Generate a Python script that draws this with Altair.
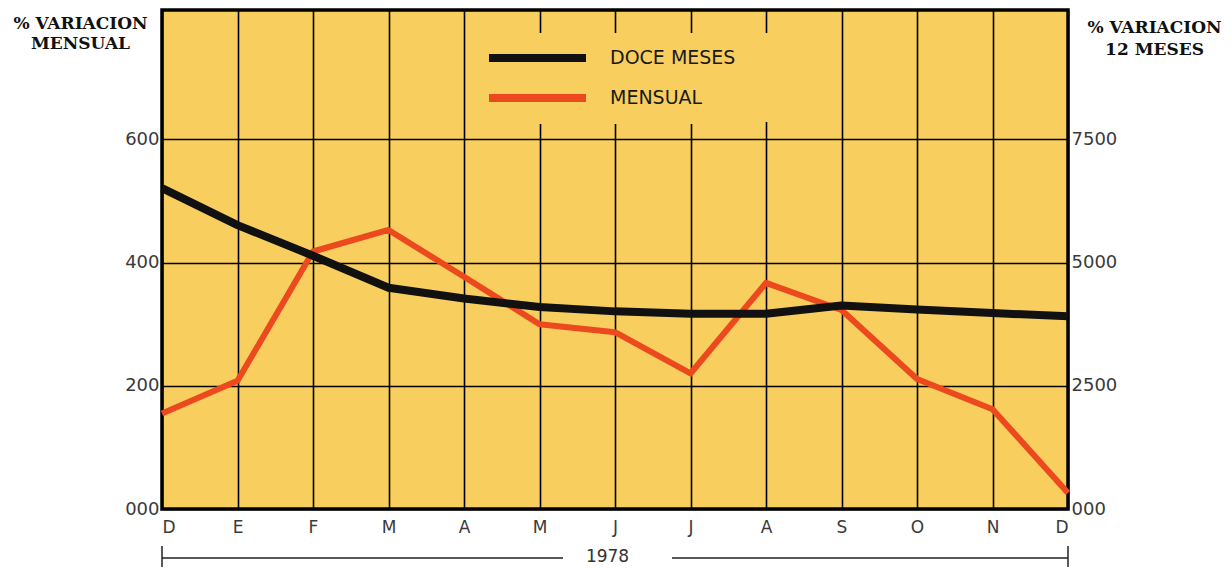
import altair as alt
import pandas as pd

# ---- data ----
meses = ["D", "E", "F", "M", "A", "M", "J", "J", "A", "S", "O", "N", "D"]
mensual = [155, 208, 418, 453, 377, 300, 287, 220, 367, 323, 211, 162, 26]
doce_meses = [6510, 5760, 5140, 4490, 4270, 4100, 4010, 3960, 3960, 4130, 4050, 3975, 3910]
series = ["DOCE MESES", "MENSUAL"]
ticks_izq = [0, 200, 400, 600]
ticks_der = [0, 2500, 5000, 7500]
anio = "1978"
titulo_izq = ["% VARIACION", "MENSUAL"]
titulo_der = ["% VARIACION", "12 MESES"]

idx = list(range(len(meses)))
df_m = pd.DataFrame({"i": idx, "mes": meses, "valor": mensual, "serie": series[1]})
df_d = pd.DataFrame({"i": idx, "mes": meses, "valor": doce_meses, "serie": series[0]})

YELLOW = "#F8CE5F"
RED = "#EC4A1E"
BLACK = "#111111"
W, H = 906, 499

color = alt.Color(
    "serie:N",
    scale=alt.Scale(domain=series, range=[BLACK, RED]),
    legend=alt.Legend(
        title=None, orient="none", legendX=318, legendY=23,
        symbolType="stroke", symbolSize=9409, symbolStrokeWidth=8,
        clipHeight=40, labelFont="DejaVu Sans", labelFontSize=19,
        labelColor="#1a1a1a", labelOffset=20, padding=5, rowPadding=0,
        fillColor=YELLOW, strokeColor=YELLOW,
    ),
)

label_expr = "[" + ",".join(f"'{m}'" for m in meses) + "][datum.value]"

x = alt.X(
    "i:Q",
    scale=alt.Scale(domain=[0, len(meses) - 1], nice=False),
    axis=alt.Axis(
        values=idx, labelExpr=label_expr, grid=True, ticks=False, domain=False,
        labelPadding=10, labelFontSize=17,
        title=anio, titleX=445, titleY=47, titleBaseline="middle",
        titleFont="DejaVu Sans", titleFontSize=17, titleFontWeight="normal",
        titleColor="#333333",
    ),
)

y_m = alt.Y(
    "valor:Q",
    scale=alt.Scale(domain=[0, 810], nice=False, zero=True),
    axis=alt.Axis(
        orient="left", values=ticks_izq,
        labelExpr="datum.value == 0 ? '000' : datum.label",
        grid=True, ticks=False, domain=False, labelPadding=3,
        title=titulo_izq, titleAngle=0, titleAlign="center", titleBaseline="top",
        titleX=-82, titleY=5, titleLineHeight=20,
    ),
)

y_d = alt.Y(
    "valor:Q",
    scale=alt.Scale(domain=[0, 10125], nice=False, zero=True),
    axis=alt.Axis(
        orient="right", values=ticks_der, format="d",
        labelExpr="datum.value == 0 ? '000' : datum.label",
        grid=False, ticks=False, domain=False, labelPadding=3,
        title=titulo_der, titleAngle=0, titleAlign="center", titleBaseline="top",
        titleX=86, titleY=9, titleLineHeight=22,
    ),
)

one = pd.DataFrame({"k": [0]})

# yellow panel behind the legend that masks the grid, as in the original
legend_bg = alt.Chart(one).mark_rect(color=YELLOW).encode(
    x=alt.value(318), x2=alt.value(640), y=alt.value(23), y2=alt.value(112))

red = alt.Chart(df_m).mark_line(strokeWidth=6, strokeJoin="round").encode(
    x=x, y=y_m, color=color
)
black = alt.Chart(df_d).mark_line(strokeWidth=8, strokeJoin="round").encode(
    x=x, y=y_d, color=color
)

rule_style = dict(color="#222222", strokeWidth=1.5)
br_left = alt.Chart(one).mark_rule(**rule_style).encode(
    x=alt.value(0), x2=alt.value(401), y=alt.value(548))
br_right = alt.Chart(one).mark_rule(**rule_style).encode(
    x=alt.value(510), x2=alt.value(W), y=alt.value(548))
tk_left = alt.Chart(one).mark_rule(**rule_style).encode(
    x=alt.value(0), y=alt.value(536), y2=alt.value(558))
tk_right = alt.Chart(one).mark_rule(**rule_style).encode(
    x=alt.value(W), y=alt.value(536), y2=alt.value(558))

chart = (
    alt.layer(legend_bg, red, black, br_left, br_right, tk_left, tk_right)
    .resolve_scale(y="independent")
    .properties(
        width=W, height=H,
        autosize=alt.AutoSizeParams(type="none"),
        padding={"left": 154, "top": 2, "right": 155, "bottom": 58},
        background="white",
    )
    .configure_view(fill=YELLOW, stroke="black", strokeWidth=3.5)
    .configure_axis(
        gridColor="black", gridWidth=1.6, gridOpacity=1,
        labelFont="DejaVu Sans", labelFontSize=18, labelColor="#3a3a3a",
        titleFont="DejaVu Serif", titleFontSize=17, titleFontWeight="bold",
        titleColor="#111111",
    )
)

chart.save("out.html", embed_options={"renderer": "svg", "actions": False})
